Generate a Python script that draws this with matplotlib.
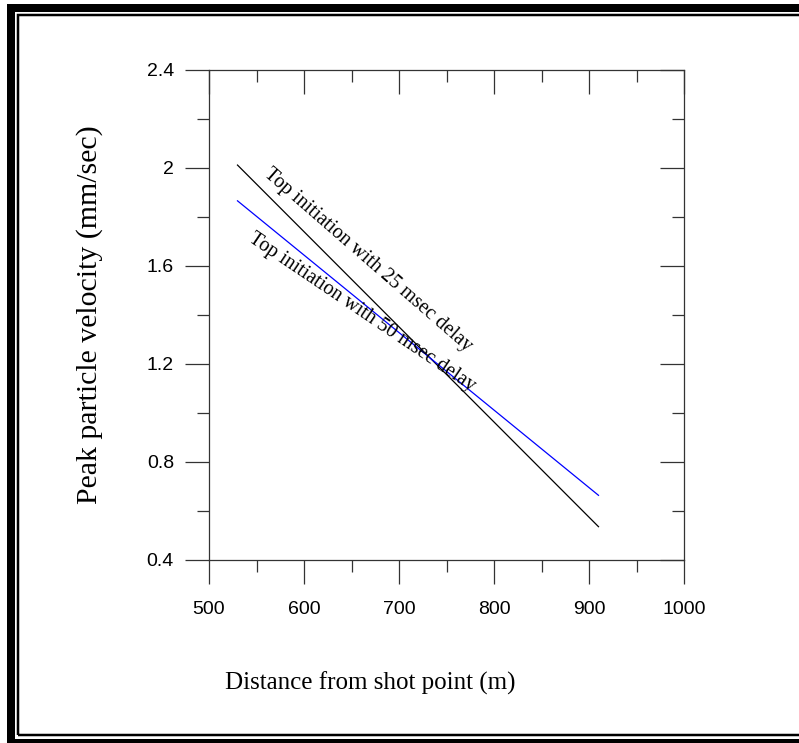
import numpy as np
import matplotlib
matplotlib.use("Agg")
import matplotlib.pyplot as plt
from matplotlib.patches import Rectangle
from matplotlib.ticker import MultipleLocator

# data
distance = [530, 910]
ppv_25ms = [2.012, 0.536]
ppv_50ms = [1.866, 0.664]
label_25ms = "Top initiation with 25 msec delay"
label_50ms = "Top initiation with 50 msec delay"

plt.rcParams["font.family"] = ["Liberation Sans", "DejaVu Sans"]
plt.rcParams["xtick.labelsize"] = 14
plt.rcParams["ytick.labelsize"] = 14

W, H = 799, 743
fig = plt.figure(figsize=(W / 100, H / 100), dpi=100)


def px(x, y):
    # pixel (from top-left) -> figure fraction
    return x / W, 1 - y / H


# double border round the picture (right side runs off the image)
x0, y0 = px(11, 8)
x1, y1 = px(803, 743)
fig.add_artist(Rectangle((x0, y1), x1 - x0, y0 - y1, transform=fig.transFigure,
                         fill=False, ec="black", lw=8 * 0.72))
x0, y0 = px(18, 15.3)
x1, y1 = px(803, 734.5)
fig.add_artist(Rectangle((x0, y1), x1 - x0, y0 - y1, transform=fig.transFigure,
                         fill=False, ec="black", lw=2.5 * 0.72))

left, top = px(209, 70)
right, bottom = px(684, 560)
ax = fig.add_axes([left, bottom, right - left, top - bottom])

ax.plot(distance, ppv_25ms, color="black", lw=0.9)
ax.plot(distance, ppv_50ms, color="#0000ff", lw=0.9)

ax.set_xlim(500, 1000)
ax.set_ylim(0.4, 2.4)
ax.xaxis.set_major_locator(MultipleLocator(100))
ax.xaxis.set_minor_locator(MultipleLocator(50))
ax.yaxis.set_minor_locator(MultipleLocator(0.2))
ax.set_yticks([0.4, 0.8, 1.2, 1.6, 2.0, 2.4])
ax.set_yticklabels(["0.4", "0.8", "1.2", "1.6", "2", "2.4"])

for s in ax.spines.values():
    s.set_linewidth(0.9)
    s.set_color("#333333")

ax.tick_params(which="both", direction="out", left=True, bottom=True,
               right=False, top=False, color="#333333", width=0.9)
ax.tick_params(which="major", length=24 * 0.72, pad=8)
ax.tick_params(which="minor", length=12 * 0.72)
ax.tick_params(axis="x", which="major", pad=12)

# inward ticks on top and right
ax2 = ax.secondary_xaxis("top")
ax2.xaxis.set_major_locator(MultipleLocator(100))
ax2.xaxis.set_minor_locator(MultipleLocator(50))
ax2.tick_params(which="both", direction="in", labeltop=False, color="#333333", width=0.9)
ax2.tick_params(which="major", length=24 * 0.72)
ax2.tick_params(which="minor", length=12 * 0.72)
ax2.spines["top"].set_visible(False)
ax3 = ax.secondary_yaxis("right")
ax3.yaxis.set_major_locator(MultipleLocator(0.4))
ax3.yaxis.set_minor_locator(MultipleLocator(0.2))
ax3.tick_params(which="both", direction="in", labelright=False, color="#333333", width=0.9)
ax3.tick_params(which="major", length=24 * 0.72)
ax3.tick_params(which="minor", length=12 * 0.72)
ax3.spines["right"].set_visible(False)

serif = "Liberation Serif"
ax.text(667, 1.625, label_25ms, rotation=-41, rotation_mode="anchor",
        ha="center", va="center", family=serif, fontsize=14.5)
ax.text(661, 1.41, label_50ms, rotation=-34, rotation_mode="anchor",
        ha="center", va="center", family=serif, fontsize=14.5)

fx, fy = px(370, 683)
fig.text(fx, fy, "Distance from shot point (m)", ha="center", va="center",
         family=serif, fontsize=18)
fx, fy = px(90, 315)
fig.text(fx, fy, "Peak particle velocity (mm/sec)", ha="center", va="center",
         rotation=90, family=serif, fontsize=21.5)

fig.savefig("out.png", dpi=100)
